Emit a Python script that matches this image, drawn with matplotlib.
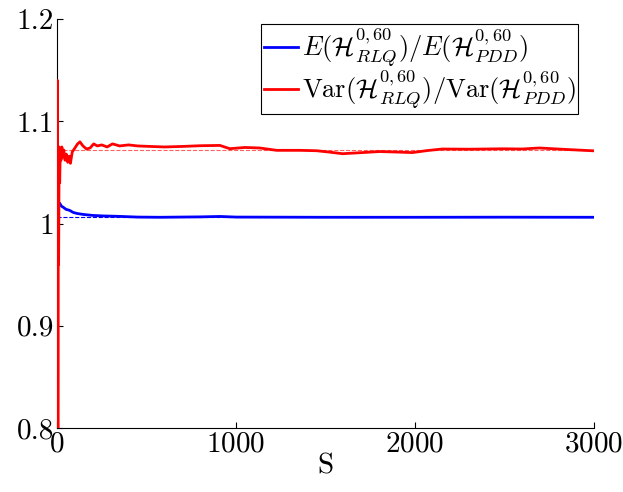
import matplotlib
matplotlib.use('Agg')
import matplotlib.pyplot as plt

# values
s_red = [1, 3, 5, 7, 9, 12, 15, 18, 22, 27, 32, 38, 45, 52, 60, 68, 75, 85,
         100, 115, 128, 145, 165, 185, 205, 225, 250, 280, 310, 350, 400, 450,
         520, 600, 700, 800, 910, 965, 1050, 1132, 1227, 1355, 1450, 1520,
         1595, 1706, 1801, 1900, 1985, 2070, 2152, 2300, 2487, 2600, 2693,
         2850, 3000]
var_ratio = [0.70, 1.14, 0.78, 1.06, 0.96, 1.075, 1.04, 1.07, 1.062, 1.075,
             1.065, 1.072, 1.062, 1.068, 1.060, 1.066, 1.059, 1.070, 1.074,
             1.078, 1.080, 1.076, 1.073, 1.074, 1.078, 1.076, 1.077, 1.075,
             1.078, 1.076, 1.077, 1.076, 1.0755, 1.0750, 1.0755, 1.0762,
             1.0765, 1.0733, 1.0745, 1.0740, 1.0717, 1.0717, 1.0713, 1.0700,
             1.0684, 1.0695, 1.0705, 1.0700, 1.0695, 1.0715, 1.0730, 1.0728,
             1.0732, 1.0730, 1.0740, 1.0725, 1.0712]

s_blue = [1, 5, 10, 15, 25, 35, 50, 70, 90, 110, 145, 200, 260, 330, 450,
          575, 800, 910, 1000, 1500, 2000, 2500, 3000]
mean_ratio = [0.99, 1.021, 1.019, 1.020, 1.017, 1.016, 1.014, 1.013, 1.011,
              1.010, 1.009, 1.008, 1.0075, 1.0072, 1.0064, 1.0062, 1.0066,
              1.0070, 1.0064, 1.0062, 1.0062, 1.0063, 1.0062]

var_ref = 1.0717
mean_ref = 1.0062

yticks = [0.8, 0.9, 1.0, 1.1, 1.2]
ytick_labels = ['0.8', '0.9', '1', '1.1', '1.2']
xticks = [0, 1000, 2000, 3000]

plt.rcParams['font.family'] = 'serif'
plt.rcParams['font.serif'] = ['cmr10']
plt.rcParams['mathtext.fontset'] = 'cm'
plt.rcParams['axes.formatter.use_mathtext'] = True

fig = plt.figure(figsize=(6.23, 4.92), dpi=100)
ax = fig.add_axes([0.0915, 0.130, 0.862, 0.831])

ax.plot([0, 3000], [mean_ref, mean_ref], '--', color='blue', lw=0.8, zorder=1)
ax.plot([0, 3000], [var_ref, var_ref], '--', color='#ff6060', lw=0.8, zorder=1)
ax.plot(s_blue, mean_ratio, color='blue', lw=2,
        label=r'$E(\mathcal{H}^{0,60}_{RLQ})/E(\mathcal{H}^{0,60}_{PDD})$', zorder=2)
ax.plot(s_red, var_ratio, color='red', lw=2,
        label=r'$\mathrm{Var}(\mathcal{H}^{0,60}_{RLQ})/\mathrm{Var}(\mathcal{H}^{0,60}_{PDD})$', zorder=3)

ax.set_xlim(0, 3000)
ax.set_ylim(0.8, 1.2)
ax.set_xticks(xticks)
ax.set_yticks(yticks)
ax.set_yticklabels(ytick_labels)
ax.tick_params(direction='in', length=4, labelsize=21, pad=2)
ax.spines['top'].set_visible(False)
ax.spines['right'].set_visible(False)
ax.set_xlabel('S', fontsize=21, labelpad=-3)

leg = ax.legend(loc='upper right', fontsize=19, handlelength=1.3,
                handletextpad=0.15, borderpad=0.08, labelspacing=0.0,
                borderaxespad=0, fancybox=False, edgecolor='black',
                framealpha=1, bbox_to_anchor=(0.97, 0.988))
leg.get_frame().set_linewidth(0.8)

plt.savefig('out.png', dpi=100)
